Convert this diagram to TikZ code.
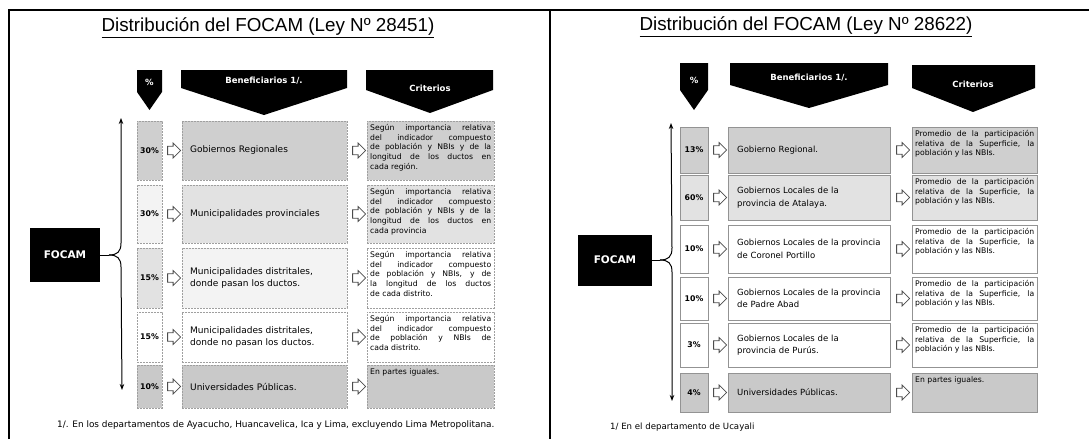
\documentclass[tikz,border=0pt]{standalone}
\usepackage{fontspec}
\setmainfont{Liberation Sans}
\newfontfamily\bodyf{DejaVu Sans}
\usetikzlibrary{shapes.arrows,calc,arrows.meta}
\definecolor{gA}{HTML}{CFCFCF}
\definecolor{gB}{HTML}{E2E2E2}
\definecolor{gC}{HTML}{F3F3F3}
\definecolor{gD}{HTML}{C9C9C9}
\tikzset{
 cellL/.style={draw=gray!75, dash pattern=on 2pt off 1pt, line width=0.6pt, anchor=north west, inner sep=0, outer sep=0},
 cellR/.style={draw=gray!85, line width=0.7pt, anchor=north west, inner sep=0, outer sep=0},
 pcttext/.style={font=\bodyf\bfseries\fontsize{7.8}{8}\selectfont},
 bentext/.style={font=\bodyf\fontsize{\bfs}{12.5}\selectfont, align=left, anchor=west, inner sep=0},
 crittext/.style={font=\bodyf\fontsize{7.7}{9.8}\selectfont, align=justify, anchor=north west, inner sep=0},
 harrow/.style={single arrow, draw=gray!60!black, fill=white, line width=0.8pt, minimum height=13pt, minimum width=15pt, single arrow head extend=3pt, inner sep=3.5pt},
 banner/.style={fill=black},
 htext/.style={text=white, font=\bodyf\bfseries\fontsize{8.5}{9}\selectfont},
 focam/.style={fill=black, text=white, font=\bodyf\bfseries\fontsize{10.5}{11}\selectfont},
 brace/.style={line width=1pt, -{Stealth[length=6pt,width=4.5pt]}},
 braceroot/.style={line width=1pt},
 ttl/.style={font=\fontsize{18.8}{20}\selectfont},
 foot/.style={font=\bodyf\fontsize{8.9}{10}\selectfont, anchor=west, inner sep=0},
 frame/.style={line width=1.3pt},
}
% #1 name, #2 top y, #3 height, #4 #5 #6 fills, #7 pct, #8 beneficiary, #9 criterion
\newcommand\mkrow[9]{%
 \node[cellX, fill=#4, minimum width=\pw, minimum height=#3pt, pcttext] (#1p) at (\px,#2) {#7};
 \node[cellX, fill=#5, minimum width=\bw, minimum height=#3pt] (#1b) at (\bx,#2) {};
 \node[bentext, text width=\btw] (#1bt) at ($(#1b.west)+(\bpad,0)$) {#8};
 \node[cellX, fill=#6, minimum width=\cw, minimum height=#3pt] (#1c) at (\cx,#2) {};
 \node[crittext, text width=\ctw] (#1ct) at ($(#1c.north west)+(3,3)$) {#9};
 \node[harrow] (#1a) at ($(#1p.east)!0.5!(#1b.west)$) {};
 \node[harrow] (#1d) at ($(#1b.east)!0.5!(#1c.west)$) {};
}
\begin{document}
\begin{tikzpicture}[x=1pt,y=-1pt]
\useasboundingbox (0,0) rectangle (1089,439);
% frame
\draw[frame] (9,439) -- (9,10) -- (1089,10);
\draw[frame] (550,10) -- (550,439);

% ===================== LEFT PANEL =====================
\node[ttl] (tL) at (268,28) {\underline{Distribución del FOCAM (Ley Nº 28451)}};

\fill[banner] (137,70) -- (162,70) -- (162,92) -- (149.5,110) -- (137,92) -- cycle;
\fill[banner] (181,70) -- (347,70) -- (347,88) -- (264,115) -- (181,88) -- cycle;
\fill[banner] (366,70) -- (493,70) -- (493,90) -- (430,113) -- (366,90) -- cycle;
\node[htext] (hLp) at (149.5,82) {\%};
\node[htext] (hLb) at (264,81) {Beneficiarios 1/.};
\node[htext] (hLc) at (430,88) {Criterios};

\tikzset{cellX/.style={cellL}}
\def\bfs{9}
\def\px{137}\def\pw{25pt}
\def\bx{182}\def\bw{165pt}\def\btw{152pt}\def\bpad{8}
\def\cx{367}\def\cw{127pt}\def\ctw{121pt}
\mkrow{La}{121}{59}{gA}{gA}{gA}{30\%}{Gobiernos Regionales}{Según importancia relativa\linebreak del indicador compuesto\linebreak de población y NBIs y de la\linebreak longitud de los ductos en\linebreak cada región.}
\mkrow{Lb}{185}{58}{gC}{gB}{gB}{30\%}{Municipalidades provinciales}{Según importancia relativa\linebreak del indicador compuesto\linebreak de población y NBIs y de la\linebreak longitud de los ductos en\linebreak cada provincia}
\mkrow{Lc}{248}{60}{gB}{gC}{white}{15\%}{Municipalidades distritales,\\donde pasan los ductos.}{Según importancia relativa\linebreak del indicador compuesto\linebreak de población y NBIs, y de\linebreak la longitud de los ductos\linebreak de cada distrito.}
\mkrow{Ld}{312}{50}{white}{white}{white}{15\%}{Municipalidades distritales,\\donde no pasan los ductos.}{Según importancia relativa\linebreak del indicador compuesto\linebreak de población y NBIs de\linebreak cada distrito.}
\mkrow{Le}{365}{43}{gD}{gD}{gD}{10\%}{Universidades Públicas.}{En partes iguales.}

\node[focam, minimum width=70pt, minimum height=54pt] (fL) at (65,255) {FOCAM};
\coordinate (tipL) at (109,255);
\coordinate (topL) at (121,118);
\coordinate (botL) at (122,390);
\draw[braceroot] (fL.east) -- (tipL);
\draw[brace] (tipL) .. controls (117,255) and (121,252) .. (121,243) -- (topL);
\draw[brace] (tipL) .. controls (117,255) and (121,258) .. (121,267) -- (botL);

\node[foot] (nL) at (57,425) {1/. En los departamentos de Ayacucho, Huancavelica, Ica y Lima, excluyendo Lima Metropolitana.};

% ===================== RIGHT PANEL =====================
\node[ttl] (tR) at (806,27) {\underline{Distribución del FOCAM (Ley Nº 28622)}};

\fill[banner] (680,63) -- (708,63) -- (708,90) -- (694,110) -- (680,90) -- cycle;
\fill[banner] (730,63) -- (888,63) -- (888,85) -- (809,108) -- (730,85) -- cycle;
\fill[banner] (912,65) -- (1035,65) -- (1035,88) -- (973,112) -- (912,88) -- cycle;
\node[htext] (hRp) at (694,80) {\%};
\node[htext] (hRb) at (809,78) {Beneficiarios 1/.};
\node[htext] (hRc) at (973,84) {Criterios};

\tikzset{cellX/.style={cellR}}
\def\bfs{8.5}
\def\px{680}\def\pw{28pt}
\def\bx{728}\def\bw{162pt}\def\btw{152pt}\def\bpad{9}
\def\cx{912}\def\cw{125pt}\def\ctw{119pt}
\def\prom{Promedio de la participación\linebreak relativa de la Superficie, la\linebreak población y las NBIs.}
\mkrow{Ra}{127}{46}{gA}{gA}{gA}{13\%}{Gobierno Regional.}{\prom}
\mkrow{Rb}{175}{45}{gB}{gB}{gB}{60\%}{Gobiernos Locales de la\\provincia de Atalaya.}{\prom}
\mkrow{Rc}{225}{48}{white}{white}{white}{10\%}{Gobiernos Locales de la provincia\\de Coronel Portillo}{\prom}
\mkrow{Rd}{277}{43}{white}{white}{white}{10\%}{Gobiernos Locales de la provincia\\de Padre Abad}{\prom}
\mkrow{Re}{323}{44}{white}{white}{white}{3\%}{Gobiernos Locales de la\\provincia de Purús.}{\prom}
\mkrow{Rf}{373}{39}{gD}{gD}{gD}{4\%}{Universidades Públicas.}{En partes iguales.}

\node[focam, minimum width=74pt, minimum height=51pt] (fR) at (615,260) {FOCAM};
\coordinate (tipR) at (660,260);
\coordinate (topR) at (671,123);
\coordinate (botR) at (672,401);
\draw[braceroot] (fR.east) -- (tipR);
\draw[brace] (tipR) .. controls (668,260) and (672,257) .. (672,248) -- (topR);
\draw[brace] (tipR) .. controls (668,260) and (672,263) .. (672,272) -- (botR);

\node[foot, font=\bodyf\fontsize{8.6}{10}\selectfont] (nR) at (610,427) {1/ En el departamento de Ucayali};
\end{tikzpicture}
\end{document}
